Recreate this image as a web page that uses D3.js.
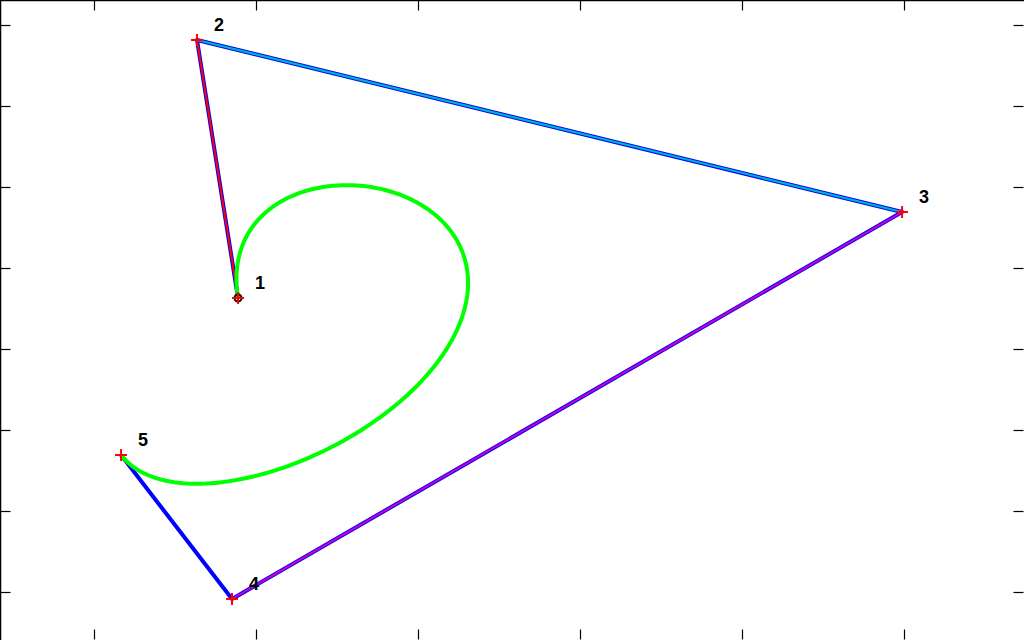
<!DOCTYPE html>
<html><head><meta charset="utf-8">
<script src="https://cdn.jsdelivr.net/npm/d3@7"></script>
<style>html,body{margin:0;padding:0;background:#fff;overflow:hidden}</style>
</head><body>
<svg id="c" width="1024" height="640"></svg>
<script>
// Control points (data units)
const ptX = [0.889, 0.636, 4.988, 0.852, 0.167];
const ptY = [3.630, 6.815, 4.691, -0.086, 1.691];
const ptLabels = ["1", "2", "3", "4", "5"];
// Inner colours of the control-polygon segments (null = plain)
const segColors = ["#ff0000", "#00b4c8", "#c800c8", null];
const xTicks = [0, 1, 2, 3, 4, 5];
const yTicks = [0, 1, 2, 3, 4, 5, 6, 7];

const W = 1024, H = 640;
const svg = d3.select("#c");
const x = d3.scaleLinear().domain([-94/162, (1024-94)/162]).range([0, W]);
const y = d3.scaleLinear().domain([-48/81, 7 + 25/81]).range([H, 0]);

// frame + ticks
const tk = 10;
svg.append("g").attr("transform","translate(0,0.5)")
  .call(d3.axisTop(x).tickValues(xTicks).tickSize(-tk).tickFormat(""));
svg.append("g").attr("transform",`translate(0,${H-0.5})`)
  .call(d3.axisBottom(x).tickValues(xTicks).tickSize(-tk).tickFormat(""));
svg.append("g").attr("transform","translate(0.5,0)")
  .call(d3.axisLeft(y).tickValues(yTicks).tickSize(-tk).tickFormat(""));
svg.append("g").attr("transform",`translate(${W-0.5},0)`)
  .call(d3.axisRight(y).tickValues(yTicks).tickSize(-tk).tickFormat(""));
svg.selectAll(".domain").attr("stroke","none");
svg.selectAll(".tick line").attr("stroke","#000").attr("stroke-width",1.2);
svg.append("line").attr("x1",0).attr("x2",W).attr("y1",0.5).attr("y2",0.5).attr("stroke","#000").attr("stroke-width",1.5);
svg.append("line").attr("x1",0.5).attr("x2",0.5).attr("y1",0).attr("y2",H).attr("stroke","#000").attr("stroke-width",1.5);

const pts = ptX.map((v,i)=>[v, ptY[i]]);
const line = d3.line().x(d=>x(d[0])).y(d=>y(d[1]));

// control polygon (blue)
svg.append("path").attr("d", line(pts)).attr("fill","none")
  .attr("stroke","#0000ff").attr("stroke-width",4).attr("stroke-linejoin","round");
// inner colored segments
segColors.forEach((c,i)=>{
  if(!c) return;
  svg.append("path").attr("d", line([pts[i], pts[i+1]])).attr("fill","none")
    .attr("stroke",c).attr("stroke-width",2);
});

// Bezier curve (degree 4) via de Casteljau
function bez(t){
  let p = pts.map(d=>d.slice());
  for(let k=p.length-1;k>0;k--){
    for(let i=0;i<k;i++){
      p[i] = [p[i][0]*(1-t)+p[i+1][0]*t, p[i][1]*(1-t)+p[i+1][1]*t];
    }
  }
  return p[0];
}
const curve = d3.range(0, 201).map(i=>bez(i/200));
svg.append("path").attr("d", line(curve)).attr("fill","none")
  .attr("stroke","#00ff00").attr("stroke-width",4).attr("stroke-linejoin","round");

// start marker circle
svg.append("circle").attr("cx", x(pts[0][0])).attr("cy", y(pts[0][1])).attr("r",3.5)
  .attr("fill","none").attr("stroke","#000").attr("stroke-width",2);

// plus markers
const s = 6;
pts.forEach(d=>{
  const cx = x(d[0]), cy = y(d[1]);
  svg.append("line").attr("x1",cx-s).attr("x2",cx+s).attr("y1",cy).attr("y2",cy).attr("stroke","#ff0000").attr("stroke-width",2);
  svg.append("line").attr("x1",cx).attr("x2",cx).attr("y1",cy-s).attr("y2",cy+s).attr("stroke","#ff0000").attr("stroke-width",2);
});

// labels
svg.selectAll("text.lab").data(pts).enter().append("text").attr("class","lab")
  .attr("x", d=>x(d[0])+22).attr("y", d=>y(d[1])-9)
  .attr("text-anchor","middle")
  .attr("font-family","Liberation Sans, Arial, sans-serif")
  .attr("font-weight","bold").attr("font-size",18).attr("fill","#000")
  .text((d,i)=>ptLabels[i]);
</script>
</body></html>
